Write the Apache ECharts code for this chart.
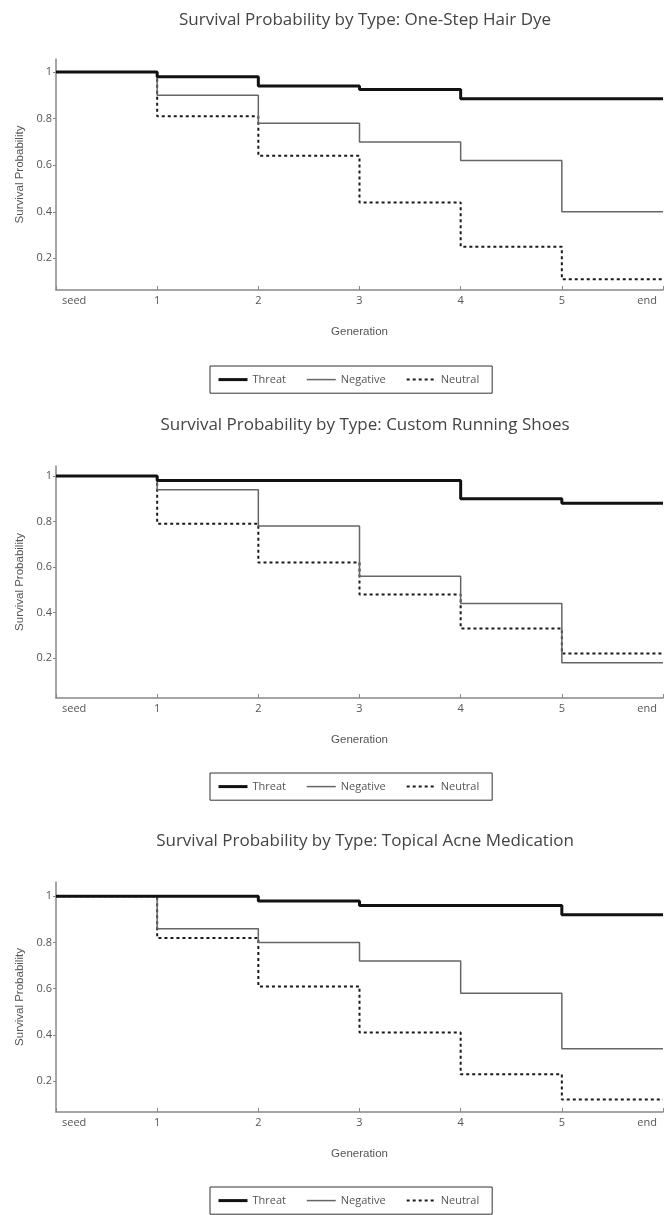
<!DOCTYPE html>
<html>
<head>
<meta charset="utf-8">
<style>
  html, body { margin: 0; padding: 0; background: #fff; }
  #survivalChart { width: 670px; height: 1215px; }
</style>
</head>
<body>
<div id="survivalChart"></div>
<script src="https://cdn.jsdelivr.net/npm/echarts@6/dist/echarts.min.js"></script>
<script>
// data
var generations = ['seed', '1', '2', '3', '4', '5', 'end'];
var yTicks = [0.2, 0.4, 0.6, 0.8, 1];
var seriesNames = ['Threat', 'Negative', 'Neutral'];

var chartTitles = [
  'Survival Probability by Type: One-Step Hair Dye',
  'Survival Probability by Type: Custom Running Shoes',
  'Survival Probability by Type: Topical Acne Medication'
];

var hairThreat   = [1, 0.98, 0.94, 0.925, 0.885, 0.885, 0.885];
var hairNegative = [1, 0.90, 0.78, 0.70, 0.62, 0.40, 0.40];
var hairNeutral  = [1, 0.81, 0.64, 0.44, 0.25, 0.11, 0.11];

var shoesThreat   = [1, 0.98, 0.98, 0.98, 0.90, 0.88, 0.88];
var shoesNegative = [1, 0.94, 0.78, 0.56, 0.44, 0.18, 0.18];
var shoesNeutral  = [1, 0.79, 0.62, 0.48, 0.33, 0.22, 0.22];

var acneThreat   = [1, 1, 0.98, 0.96, 0.96, 0.92, 0.92];
var acneNegative = [1, 0.86, 0.80, 0.72, 0.58, 0.34, 0.34];
var acneNeutral  = [1, 0.82, 0.61, 0.41, 0.23, 0.12, 0.12];

var chartData = [
  [hairThreat, hairNegative, hairNeutral],
  [shoesThreat, shoesNegative, shoesNeutral],
  [acneThreat, acneNegative, acneNeutral]
];

// layout of the three stacked panels
var panels = [
  { titleTop: 7,   gridTop: 59,  gridHeight: 231, legendTop: 366,  yMin: 0.064, yMax: 1.056 },
  { titleTop: 412, gridTop: 466, gridHeight: 232, legendTop: 773,  yMin: 0.025, yMax: 1.044 },
  { titleTop: 828, gridTop: 882, gridHeight: 230, legendTop: 1187, yMin: 0.066, yMax: 1.062 }
];

var lineStyles = {
  Threat:   { color: '#111', width: 3, type: 'solid' },
  Negative: { color: '#666', width: 1.5, type: 'solid' },
  Neutral:  { color: '#1a1a1a', width: 2, type: [3, 3] }
};

var labelFont = '"Open Sans", sans-serif';
var nameFont = '"Liberation Sans", Arial, sans-serif';

var myChart = echarts.init(document.getElementById('survivalChart'), null, { renderer: 'canvas' });

var option = {
  backgroundColor: '#fff',
  animation: false,
  title: [],
  legend: [],
  grid: [],
  xAxis: [],
  yAxis: [],
  series: []
};

panels.forEach(function (p, i) {
  option.title.push({
    text: chartTitles[i],
    left: 360,
    top: p.titleTop,
    textAlign: 'center',
    textStyle: { fontFamily: labelFont, fontSize: 17, fontWeight: 'normal', color: '#444' }
  });

  option.legend.push({
    data: seriesNames,
    left: 210,
    top: p.legendTop,
    orient: 'horizontal',
    padding: [8, 13, 8, 7],
    itemGap: 20,
    itemWidth: 29,
    itemHeight: 14,
    borderColor: '#333',
    borderWidth: 1,
    lineStyle: { width: 'inherit' },
    itemStyle: { opacity: 0 },
    selectedMode: false,
    textStyle: { fontFamily: labelFont, fontSize: 11, color: '#555' }
  });

  option.grid.push({
    left: 56,
    right: 7,
    top: p.gridTop,
    height: p.gridHeight,
    containLabel: false
  });

  option.xAxis.push({
    type: 'category',
    gridIndex: i,
    data: generations,
    boundaryGap: false,
    name: 'Generation',
    nameLocation: 'middle',
    nameGap: 36,
    nameTextStyle: { fontFamily: nameFont, fontSize: 11.5, color: '#555' },
    axisLine: { lineStyle: { color: '#888', width: 1.5 } },
    axisTick: { inside: true, length: 4, alignWithLabel: true, lineStyle: { color: '#888' } },
    axisLabel: {
      interval: 0,
      margin: 5,
      fontFamily: labelFont,
      fontSize: 11,
      color: '#555',
      padding: [0, 6, 0, 6],
      alignMinLabel: 'left',
      alignMaxLabel: 'right'
    },
    splitLine: { show: false }
  });

  option.yAxis.push({
    type: 'value',
    gridIndex: i,
    min: p.yMin,
    max: p.yMax,
    name: 'Survival Probability',
    nameLocation: 'middle',
    nameGap: 30,
    nameTextStyle: { fontFamily: nameFont, fontSize: 11.5, color: '#555' },
    axisLine: { show: true, lineStyle: { color: '#888', width: 1.5 } },
    axisTick: { show: true, length: 3, customValues: yTicks, lineStyle: { color: '#888' } },
    axisLabel: {
      margin: 4,
      fontFamily: labelFont,
      fontSize: 11,
      color: '#555',
      customValues: yTicks
    },
    splitLine: { show: false }
  });

  seriesNames.forEach(function (name, k) {
    var st = lineStyles[name];
    option.series.push({
      name: name,
      type: 'line',
      step: 'end',
      xAxisIndex: i,
      yAxisIndex: i,
      data: chartData[i][k],
      symbol: 'none',
      showSymbol: false,
      color: st.color,
      lineStyle: { color: st.color, width: st.width, type: st.type },
      z: 3 - k
    });
  });
});

myChart.setOption(option);
</script>
</body>
</html>
